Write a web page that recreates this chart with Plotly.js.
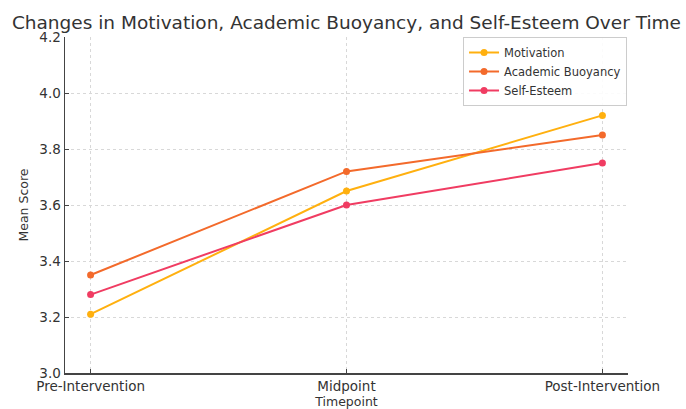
<!DOCTYPE html>
<html>
<head>
<meta charset="utf-8">
<script src="https://cdn.plot.ly/plotly-3.0.1.min.js"></script>
<style>html,body{margin:0;padding:0;background:#fff;}#chart{width:686px;height:409px;}</style>
</head>
<body>
<div id="chart"></div>
<script>
const timepoints = ["Pre-Intervention", "Midpoint", "Post-Intervention"];
const motivation = [3.21, 3.65, 3.92];
const academicBuoyancy = [3.35, 3.72, 3.85];
const selfEsteem = [3.28, 3.60, 3.75];
const yTicks = [3.0, 3.2, 3.4, 3.6, 3.8, 4.0, 4.2];

const xIdx = timepoints.map((_, i) => i);
function series(name, vals, color) {
  return {
    x: xIdx, y: vals, name: name, type: "scatter", mode: "lines+markers",
    line: {color: color, width: 2}, marker: {color: color, size: 7}
  };
}
const data = [
  series("Motivation", motivation, "#FFB00F"),
  series("Academic Buoyancy", academicBuoyancy, "#F36A2B"),
  series("Self-Esteem", selfEsteem, "#F03C62")
];
const font = "DejaVu Sans, sans-serif";
const layout = {
  width: 686, height: 409,
  margin: {l: 65, r: 58, t: 37, b: 36},
  paper_bgcolor: "#fff", plot_bgcolor: "#fff",
  font: {family: font, color: "#333", size: 12},
  title: {text: "Changes in Motivation, Academic Buoyancy, and Self-Esteem Over Time",
          font: {family: font, size: 18.5, color: "#333"}, x: 0.505, xanchor: "center",
          y: 0.945, yanchor: "middle"},
  xaxis: {
    range: [-0.1, 2.1], tickvals: xIdx, ticktext: timepoints,
    showgrid: true, gridcolor: "#d8d8d8", griddash: "dot", gridwidth: 1,
    showline: true, linecolor: "#444", linewidth: 1.5, zeroline: false,
    ticks: "inside", ticklen: 4, tickcolor: "#444",
    tickfont: {size: 13.5, color: "#333"},
    title: {text: "Timepoint", font: {size: 12.5, color: "#333"}, standoff: 2}
  },
  yaxis: {
    range: [3.0, 4.2], tickvals: yTicks, ticktext: yTicks.map(v => v.toFixed(1)),
    showgrid: true, gridcolor: "#d8d8d8", griddash: "dot", gridwidth: 1,
    showline: true, linecolor: "#444", linewidth: 1.5, zeroline: false,
    ticks: "inside", ticklen: 4, tickcolor: "#444",
    tickfont: {size: 13.5, color: "#333"},
    title: {text: "Mean Score", font: {size: 12.5, color: "#333"}, standoff: 8}
  },
  legend: {
    x: 0.707, y: 1.0, xanchor: "left", yanchor: "top",
    bgcolor: "rgba(255,255,255,0.9)", bordercolor: "#ccc", borderwidth: 1,
    font: {size: 11.5, color: "#333"}, tracegroupgap: 0
  },
  showlegend: true
};
Plotly.newPlot("chart", data, layout, {displayModeBar: false, staticPlot: true});
</script>
</body>
</html>
